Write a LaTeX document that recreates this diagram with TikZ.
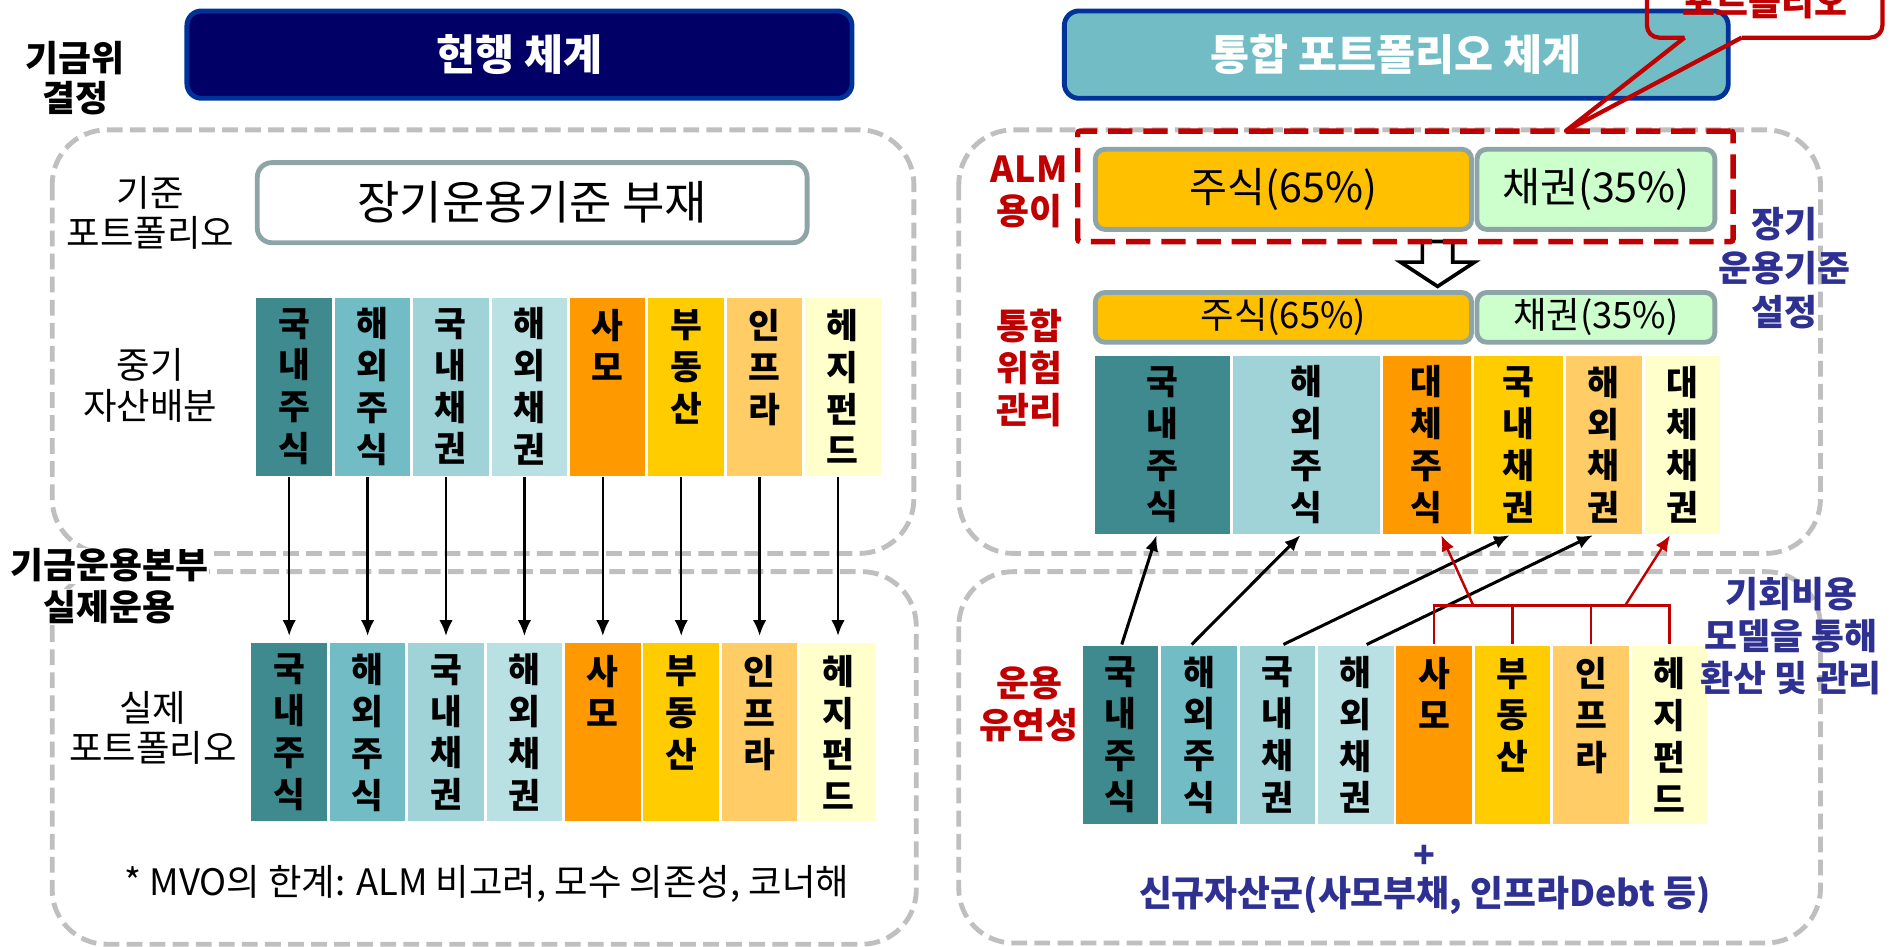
\documentclass[tikz,border=0pt]{standalone}
\usepackage{fontspec}
\setmainfont{Noto Sans CJK KR}
\usetikzlibrary{positioning,arrows.meta}
\definecolor{navyfill}{HTML}{000066}
\definecolor{titleline}{HTML}{003399}
\definecolor{tealfill}{HTML}{72BDC5}
\definecolor{regline}{HTML}{BFBFBF}
\definecolor{barline}{HTML}{8EA5A8}
\definecolor{dteal}{HTML}{3E8A8F}
\definecolor{mteal}{HTML}{72BDC5}
\definecolor{lteal}{HTML}{A0D3D8}
\definecolor{pteal}{HTML}{B9E0E3}
\definecolor{orng}{HTML}{FF9900}
\definecolor{gold}{HTML}{FFCC00}
\definecolor{lorng}{HTML}{FFCC66}
\definecolor{cream}{HTML}{FFFFCC}
\definecolor{stockbar}{HTML}{FFC000}
\definecolor{bondbar}{HTML}{CCFFCC}
\definecolor{alarm}{HTML}{C00000}
\definecolor{ink}{HTML}{2E3192}

\begin{document}
\begin{tikzpicture}[x=1pt,y=-1pt,>={Latex[length=13pt,width=11pt]},node distance=0pt,
	col/.style={draw=white,line width=2.4pt,inner sep=0pt,outer sep=0pt,minimum width=64.6pt,minimum height=149pt,align=center,font=\fontsize{28.5}{34.5}\selectfont\bfseries},
	region/.style={draw=regline,line width=4pt,dash pattern=on 13pt off 6pt,rounded corners=45pt},
	title box/.style={draw=titleline,line width=4pt,rounded corners=12pt,minimum width=548pt,minimum height=72pt,text=white,font=\fontsize{35}{40}\selectfont\bfseries},
	bar/.style={draw=barline,line width=4pt,rounded corners=8pt,inner sep=0pt},
	side label/.style={align=center,font=\fontsize{30}{33}\selectfont},
	bold label/.style={align=center,font=\fontsize{29.5}{34.5}\selectfont\bfseries},
	red label/.style={bold label,text=alarm},
	navy label/.style={bold label,text=ink},
	flow/.style={->,line width=2.5pt},
	red flow/.style={->,draw=alarm,line width=2pt}]

	\useasboundingbox (0,0) rectangle (1568,780);
	\clip (0,0) rectangle (1568,780);

	% dashed areas
	\draw[region] (43,107) rectangle (753,456);
	\draw[region] (43,471) rectangle (755,778);
	\draw[region] (790,107) rectangle (1500,456);
	\draw[region] (790,471) rectangle (1500,777);

	\node[title box,fill=navyfill] (now) at (428,45) {현행 체계};
	\node[title box,fill=tealfill,minimum width=547pt] (int) at (1150.5,45) {통합 포트폴리오 체계};
	\node[bold label,font=\fontsize{29.5}{33}\selectfont\bfseries] (fund) at (62,64.5) {기금위\\결정};

	% current system
	\node[side label] (base) at (124,175.5) {기준\\포트폴리오};
	\node[bar,fill=white,rounded corners=12pt,minimum width=453pt,minimum height=66pt,font=\fontsize{38}{40}\selectfont] (none) at (438.5,167) {장기운용기준 부재};

	\node[side label] (mid) at (124,317.5) {중기\\자산배분};
	\node[col,fill=dteal,anchor=north west] (m1) at (210,244) {국\\내\\주\\식};
	\node[col,fill=mteal,right=of m1] (m2) {해\\외\\주\\식};
	\node[col,fill=lteal,right=of m2] (m3) {국\\내\\채\\권};
	\node[col,fill=pteal,right=of m3] (m4) {해\\외\\채\\권};
	\node[col,fill=orng,right=of m4] (m5) {사\\모\\~\\~};
	\node[col,fill=gold,right=of m5] (m6) {부\\동\\산\\~};
	\node[col,fill=lorng,right=of m6] (m7) {인\\프\\라\\~};
	\node[col,fill=cream,right=of m7] (m8) {헤\\지\\펀\\드};

	\node[bold label,fill=white,inner sep=1pt] (hq) at (90,466) {기금운용본부};
	\node[bold label,fill=white,inner sep=1pt] (ops) at (90,500) {실제운용};

	\node[side label] (real) at (126,599.5) {실제\\포트폴리오};
	\node[col,fill=dteal,anchor=north west] (l1) at (206,529) {국\\내\\주\\식};
	\node[col,fill=mteal,right=of l1] (l2) {해\\외\\주\\식};
	\node[col,fill=lteal,right=of l2] (l3) {국\\내\\채\\권};
	\node[col,fill=pteal,right=of l3] (l4) {해\\외\\채\\권};
	\node[col,fill=orng,right=of l4] (l5) {사\\모\\~\\~};
	\node[col,fill=gold,right=of l5] (l6) {부\\동\\산\\~};
	\node[col,fill=lorng,right=of l6] (l7) {인\\프\\라\\~};
	\node[col,fill=cream,right=of l7] (l8) {헤\\지\\펀\\드};

	\draw[flow,line width=2pt,shorten >=5pt] (m1.south -| l1) -- (l1.north);
	\draw[flow,line width=2pt,shorten >=5pt] (m2.south -| l2) -- (l2.north);
	\draw[flow,line width=2pt,shorten >=5pt] (m3.south -| l3) -- (l3.north);
	\draw[flow,line width=2pt,shorten >=5pt] (m4.south -| l4) -- (l4.north);
	\draw[flow,line width=2pt,shorten >=5pt] (m5.south -| l5) -- (l5.north);
	\draw[flow,line width=2pt,shorten >=5pt] (m6.south -| l6) -- (l6.north);
	\draw[flow,line width=2pt,shorten >=5pt] (m7.south -| l7) -- (l7.north);
	\draw[flow,line width=2pt,shorten >=5pt] (m8.south -| l8) -- (l8.north);

	\node[side label] (note) at (401,728) {* MVO의 한계: ALM 비고려, 모수 의존성, 코너해};

	% integrated system
	\draw[fill=white,line width=3pt] (1172,199) -- (1172,216) -- (1154,216) -- (1184.5,236) -- (1215,216) -- (1197,216) -- (1197,199) -- cycle;
	\node[draw=alarm,line width=4.5pt,dash pattern=on 20pt off 9pt,rounded corners=2pt,minimum width=540pt,minimum height=91pt] (almbox) at (1158,153.5) {};
	\node[bar,fill=stockbar,minimum width=310pt,minimum height=66pt,font=\fontsize{34}{38}\selectfont] (eq1) at (1057.5,156) {주식(65\%)};
	\node[bar,fill=bondbar,minimum width=196pt,minimum height=66pt,font=\fontsize{34}{38}\selectfont] (bd1) at (1315,156) {채권(35\%)};
	\node[red label] (alm) at (848,158) {ALM\\용이};
	\node[navy label,font=\fontsize{29.5}{36}\selectfont\bfseries] (lt) at (1470,221) {장기\\운용기준\\설정};

	\node[bar,fill=stockbar,minimum width=310pt,minimum height=41pt,font=\fontsize{30}{32}\selectfont] (eq2) at (1057.5,261.5) {주식(65\%)};
	\node[bar,fill=bondbar,minimum width=196pt,minimum height=41pt,font=\fontsize{30}{32}\selectfont] (bd2) at (1315,261.5) {채권(35\%)};

	\node[red label] (risk) at (848,303.5) {통합\\위험\\관리};
	\node[col,fill=dteal,minimum width=114pt,anchor=north west] (u1) at (901,292) {국\\내\\주\\식};
	\node[col,fill=lteal,minimum width=123pt,right=of u1] (u2) {해\\외\\주\\식};
	\node[col,fill=orng,minimum width=75pt,right=of u2] (u3) {대\\체\\주\\식};
	\node[col,fill=gold,minimum width=76pt,right=of u3] (u4) {국\\내\\채\\권};
	\node[col,fill=lorng,minimum width=65pt,right=of u4] (u5) {해\\외\\채\\권};
	\node[col,fill=cream,minimum width=64pt,right=of u5] (u6) {대\\체\\채\\권};

	\node[red label] (flex) at (848,580.5) {운용\\유연성};
	\node[col,fill=dteal,anchor=north west] (b1) at (891,531) {국\\내\\주\\식};
	\node[col,fill=mteal,right=of b1] (b2) {해\\외\\주\\식};
	\node[col,fill=lteal,right=of b2] (b3) {국\\내\\채\\권};
	\node[col,fill=pteal,right=of b3] (b4) {해\\외\\채\\권};
	\node[col,fill=orng,right=of b4] (b5) {사\\모\\~\\~};
	\node[col,fill=gold,right=of b5] (b6) {부\\동\\산\\~};
	\node[col,fill=lorng,right=of b6] (b7) {인\\프\\라\\~};
	\node[col,fill=cream,right=of b7] (b8) {헤\\지\\펀\\드};

	\draw[flow] ([xshift=1pt]b1.north) -- ([xshift=-5pt]u1.south);
	\draw[flow] ([xshift=-6pt]b2.north) -- ([xshift=-5pt]u2.south);
	\draw[flow] ([xshift=5pt]b3.north) -- ([xshift=-7pt]u4.south);
	\draw[flow] ([xshift=9pt]b4.north) -- ([xshift=-9pt]u5.south);

	% opportunity cost bracket
	\coordinate (brk) at (0,499);
	\draw[alarm,line width=2pt] (b5.north) -- (b5.north |- brk) -- (b8.north |- brk) -- (b8.north);
	\draw[alarm,line width=2pt] (b6.north) -- (b6.north |- brk);
	\draw[alarm,line width=2pt] (b7.north) -- (b7.north |- brk);
	\coordinate (r1) at (1214,499);
	\coordinate (r2) at (1339,499);
	\draw[red flow] (r1) -- ([xshift=12pt]u3.south);
	\draw[red flow] (r2) -- ([xshift=-10pt]u6.south);

	\node[navy label] (opp) at (1476,524) {기회비용\\모델을 통해\\환산 및 관리};
	\node[navy label] (plus) at (1174,706) {+};
	\node[navy label] (newcls) at (1174,738) {신규자산군(사모부채, 인프라Debt 등)};

	% callout
	\coordinate (tip) at (1290,108);
	\draw[alarm,line width=3.5pt,rounded corners=10pt] (1357,-20) -- (1357,31) -- (1388,31);
	\draw[alarm,line width=3.5pt,line join=round] (1388,31) -- (tip) -- (1435,31);
	\draw[alarm,line width=3.5pt,rounded corners=10pt] (1435,31) -- (1551,31) -- (1551,-20);
	\node[red label] (calltext) at (1454,2) {포트폴리오};
\end{tikzpicture}
\end{document}
